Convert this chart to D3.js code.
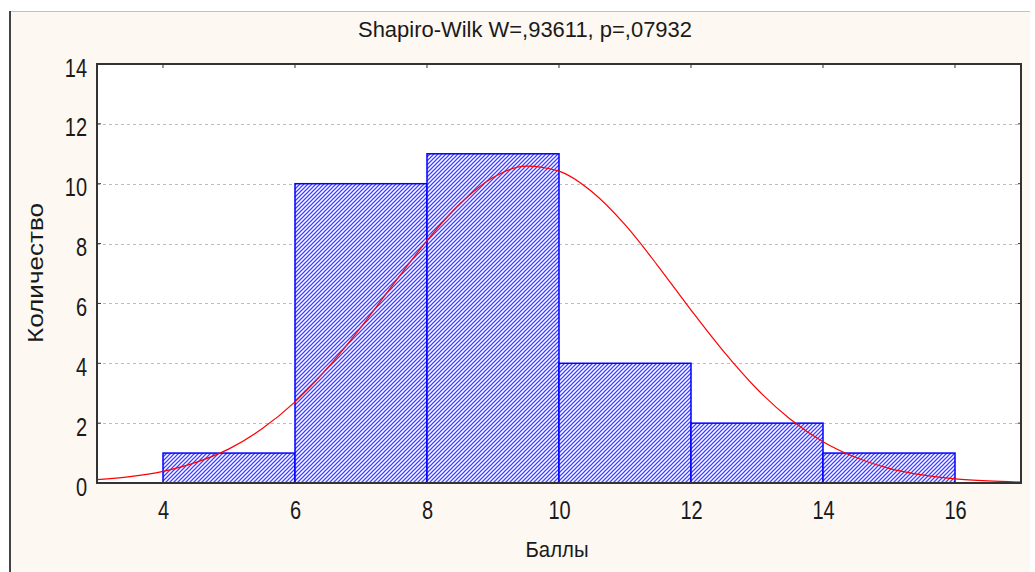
<!DOCTYPE html>
<html><head><meta charset="utf-8">
<script src="https://cdn.jsdelivr.net/npm/d3@7"></script>
<style>body{margin:0;background:#fff;}svg{display:block;}</style>
</head><body>
<script>
const binStarts = [4, 6, 8, 10, 12, 14];
const binEnds = [6, 8, 10, 12, 14, 16];
const counts = [1, 10, 11, 4, 2, 1];
const curveX = [3,3.5,4,4.5,5,5.5,6,6.5,7,7.5,8,8.5,9,9.5,10,10.5,11,11.5,12,12.5,13,13.5,14,14.5,15,15.5,16,16.5,17];
const curveY = [0.11,0.21,0.39,0.69,1.14,1.81,2.71,3.86,5.21,6.67,8.10,9.33,10.21,10.59,10.42,9.73,8.63,7.25,5.78,4.38,3.14,2.14,1.38,0.85,0.49,0.27,0.14,0.07,0.03];
const xTicks = [4, 6, 8, 10, 12, 14, 16];
const yTicks = [0, 2, 4, 6, 8, 10, 12, 14];
const title = "Shapiro-Wilk W=,93611, p=,07932";
const xLabel = "Баллы";
const yLabel = "Количество";

const W = 1035, H = 572;
const m = {l: 97, t: 64, r: 1021, b: 483};
const svg = d3.select("body").append("svg").attr("width", W).attr("height", H);
const font = "'Liberation Sans',Arial,sans-serif";
const ink = "#1a1a1a";

// background frame
svg.append("rect").attr("x", 9).attr("y", 11).attr("width", 1021).attr("height", H - 11).attr("fill", "#fdf8f1");
svg.append("line").attr("x1", 9).attr("x2", 1030).attr("y1", 11.5).attr("y2", 11.5).attr("stroke", "#c4c0bb").attr("stroke-width", 1);
svg.append("line").attr("x1", 10).attr("x2", 10).attr("y1", 11).attr("y2", H).attr("stroke", "#444").attr("stroke-width", 2);

const defs = svg.append("defs");
const pat = defs.append("pattern").attr("id", "hatch").attr("patternUnits", "userSpaceOnUse")
  .attr("width", 4).attr("height", 4);
pat.append("rect").attr("width", 4).attr("height", 4).attr("fill", "#fff");
pat.append("path").attr("d", "M-1,1 l2,-2 M0,4 l4,-4 M3,5 l2,-2").attr("stroke", "#4040ff").attr("stroke-width", 1.25);

const x = d3.scaleLinear().domain([3, 17]).range([m.l, m.r]);
const y = d3.scaleLinear().domain([0, 14]).range([m.b, m.t]);

svg.append("rect").attr("x", m.l).attr("y", m.t).attr("width", m.r - m.l).attr("height", m.b - m.t).attr("fill", "#fff");

// grid
svg.append("g").selectAll("line").data(yTicks.filter(d => d > 0 && d < 14)).join("line")
  .attr("x1", m.l).attr("x2", m.r).attr("y1", d => Math.round(y(d)) + 0.5).attr("y2", d => Math.round(y(d)) + 0.5)
  .attr("stroke", "#bdbdbd").attr("stroke-dasharray", "3,3").attr("stroke-width", 1);

// bars
svg.append("g").selectAll("rect").data(counts).join("rect")
  .attr("x", (d, i) => x(binStarts[i])).attr("y", d => y(d))
  .attr("width", (d, i) => x(binEnds[i]) - x(binStarts[i])).attr("height", d => y(0) - y(d))
  .attr("fill", "url(#hatch)").attr("stroke", "#0000ff").attr("stroke-width", 1.5);

// curve
const line = d3.line().x((d, i) => x(curveX[i])).y(d => y(d)).curve(d3.curveMonotoneX);
svg.append("path").datum(curveY).attr("d", line).attr("fill", "none").attr("stroke", "#ff0000").attr("stroke-width", 1.2);

// axes
const sx = 0.8;
svg.append("g").attr("transform", `translate(0,${m.b})`)
  .call(d3.axisBottom(x).tickValues(xTicks).tickSize(0).tickFormat(d3.format("d")))
  .call(g => {
    g.select(".domain").remove();
    g.selectAll("text").attr("font-family", font).attr("font-size", 25).attr("fill", ink)
      .attr("y", 36).attr("dy", 0).attr("transform", `scale(${sx},1)`);
  });
svg.append("g").attr("transform", `translate(${m.l},0)`)
  .call(d3.axisLeft(y).tickValues(yTicks).tickSize(0).tickFormat(d3.format("d")))
  .call(g => {
    g.select(".domain").remove();
    g.selectAll("text").attr("font-family", font).attr("font-size", 25).attr("fill", ink)
      .attr("x", -10 / sx).attr("dy", 12).attr("transform", `scale(${sx},1)`);
  });
// inner ticks
svg.append("g").selectAll("line").data(xTicks).join("line")
  .attr("x1", d => x(d)).attr("x2", d => x(d)).attr("y1", m.t).attr("y2", m.t + 4).attr("stroke", "#333");
svg.append("g").selectAll("line").data(yTicks.filter(d => d > 0 && d < 14)).join("line")
  .attr("x1", m.l).attr("x2", m.l + 4).attr("y1", d => y(d)).attr("y2", d => y(d)).attr("stroke", "#333");
svg.append("g").selectAll("line").data(yTicks.filter(d => d > 0 && d < 14)).join("line")
  .attr("x1", m.r).attr("x2", m.r - 3).attr("y1", d => y(d)).attr("y2", d => y(d)).attr("stroke", "#333");

// frame
svg.append("rect").attr("x", m.l).attr("y", m.t).attr("width", m.r - m.l).attr("height", m.b - m.t)
  .attr("fill", "none").attr("stroke", "#333").attr("stroke-width", 2);

svg.append("text").attr("x", 525).attr("y", 37).attr("text-anchor", "middle")
  .attr("font-family", font).attr("font-size", 22).attr("fill", ink)
  .attr("textLength", 334).attr("lengthAdjust", "spacingAndGlyphs").text(title);
svg.append("text").attr("x", 557).attr("y", 557).attr("text-anchor", "middle")
  .attr("font-family", font).attr("font-size", 22).attr("fill", ink)
  .attr("textLength", 63).attr("lengthAdjust", "spacingAndGlyphs").text(xLabel);
svg.append("text").attr("transform", "translate(43,273) rotate(-90)").attr("text-anchor", "middle")
  .attr("font-family", font).attr("font-size", 22).attr("fill", ink)
  .attr("textLength", 140).attr("lengthAdjust", "spacingAndGlyphs").text(yLabel);
</script>
</body></html>
